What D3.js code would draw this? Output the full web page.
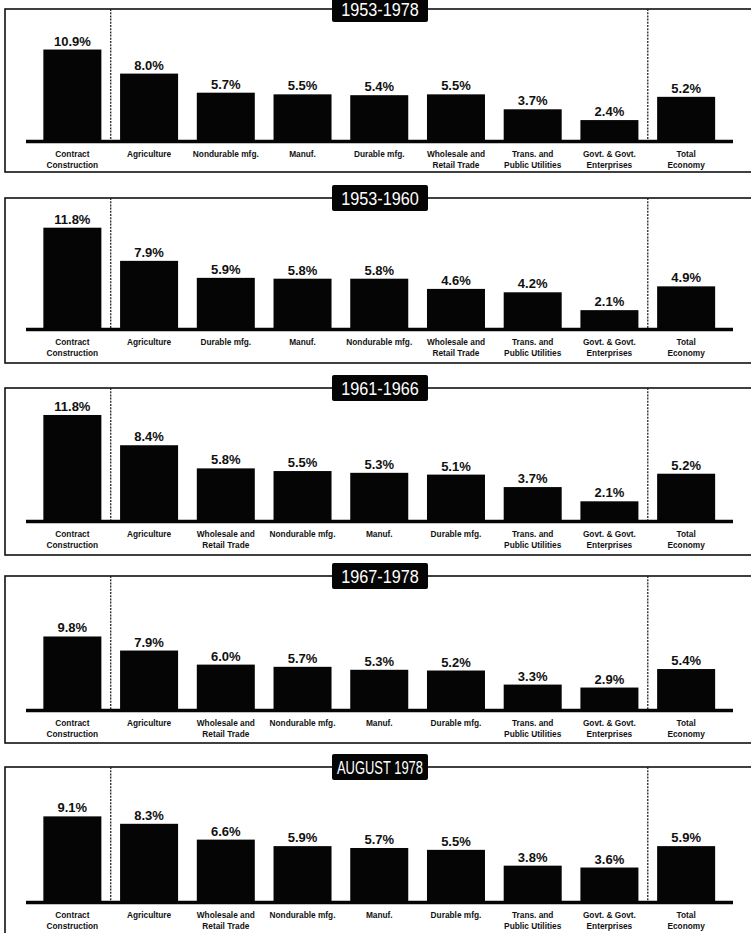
<!DOCTYPE html>
<html>
<head>
<meta charset="utf-8">
<script src="https://cdn.jsdelivr.net/npm/d3@7"></script>
<style>
  html, body { margin: 0; padding: 0; background: #fff; }
  svg { display: block; }
</style>
</head>
<body>
<svg id="chart" width="751" height="933"></svg>
<script>
// ---------- DATA ----------
const panelTitles = ["1953-1978", "1953-1960", "1961-1966", "1967-1978", "AUGUST 1978"];

const categories1 = ["Contract\nConstruction", "Agriculture", "Nondurable mfg.", "Manuf.", "Durable mfg.", "Wholesale and\nRetail Trade", "Trans. and\nPublic Utilities", "Govt. & Govt.\nEnterprises", "Total\nEconomy"];
const values1 = [10.9, 8.0, 5.7, 5.5, 5.4, 5.5, 3.7, 2.4, 5.2];

const categories2 = ["Contract\nConstruction", "Agriculture", "Durable mfg.", "Manuf.", "Nondurable mfg.", "Wholesale and\nRetail Trade", "Trans. and\nPublic Utilities", "Govt. & Govt.\nEnterprises", "Total\nEconomy"];
const values2 = [11.8, 7.9, 5.9, 5.8, 5.8, 4.6, 4.2, 2.1, 4.9];

const categories3 = ["Contract\nConstruction", "Agriculture", "Wholesale and\nRetail Trade", "Nondurable mfg.", "Manuf.", "Durable mfg.", "Trans. and\nPublic Utilities", "Govt. & Govt.\nEnterprises", "Total\nEconomy"];
const values3 = [11.8, 8.4, 5.8, 5.5, 5.3, 5.1, 3.7, 2.1, 5.2];

const categories4 = ["Contract\nConstruction", "Agriculture", "Wholesale and\nRetail Trade", "Nondurable mfg.", "Manuf.", "Durable mfg.", "Trans. and\nPublic Utilities", "Govt. & Govt.\nEnterprises", "Total\nEconomy"];
const values4 = [9.8, 7.9, 6.0, 5.7, 5.3, 5.2, 3.3, 2.9, 5.4];

const categories5 = ["Contract\nConstruction", "Agriculture", "Wholesale and\nRetail Trade", "Nondurable mfg.", "Manuf.", "Durable mfg.", "Trans. and\nPublic Utilities", "Govt. & Govt.\nEnterprises", "Total\nEconomy"];
const values5 = [9.1, 8.3, 6.6, 5.9, 5.7, 5.5, 3.8, 3.6, 5.9];

const panelCategories = [categories1, categories2, categories3, categories4, categories5];
const panelValues = [values1, values2, values3, values4, values5];

// ---------- LAYOUT ----------
const layout = [
  { top: 9,   bottom: 172, base: 140, pxPer: 8.3 },
  { top: 198, bottom: 363, base: 328, pxPer: 8.5 },
  { top: 388, bottom: 555, base: 520, pxPer: 8.9 },
  { top: 576, bottom: 743, base: 709, pxPer: 7.4 },
  { top: 767, bottom: 960, base: 901, pxPer: 9.3 }
];

const svg = d3.select("#chart");
const fmt = d3.format(".1f");
const titleFont = "'Liberation Sans', Arial, sans-serif";
const labelFont = "'Liberation Sans', Arial, 'Helvetica', sans-serif";

panelTitles.forEach((title, p) => {
  const L = layout[p];
  const cats = panelCategories[p];
  const vals = panelValues[p];
  const g = svg.append("g");

  const x = d3.scaleBand()
    .domain(cats)
    .range([34, 724.5])
    .paddingInner(0.244)
    .paddingOuter(0.122);

  const y = d3.scaleLinear()
    .domain([0, 12])
    .range([L.base, L.base - 12 * L.pxPer]);

  // panel frame (right side runs off the page)
  g.append("rect")
    .attr("x", 5).attr("y", L.top)
    .attr("width", 800).attr("height", L.bottom - L.top)
    .attr("fill", "none").attr("stroke", "#111").attr("stroke-width", 1.6);

  // dotted separators
  const step = x.step();
  const sepX = [
    x(cats[0]) + x.bandwidth() + (step - x.bandwidth()) / 2,
    x(cats[7]) + x.bandwidth() + (step - x.bandwidth()) / 2
  ];
  g.selectAll("line.sep").data(sepX).join("line")
    .attr("class", "sep")
    .attr("x1", d => d).attr("x2", d => d)
    .attr("y1", L.top).attr("y2", L.base)
    .attr("stroke", "#222").attr("stroke-width", 1.3)
    .attr("stroke-dasharray", "2,1.2");

  // bars
  g.selectAll("rect.bar").data(vals).join("rect")
    .attr("class", "bar")
    .attr("x", (d, i) => x(cats[i]))
    .attr("width", x.bandwidth())
    .attr("y", d => y(d))
    .attr("height", d => y(0) - y(d))
    .attr("fill", "#050505");

  // baseline
  g.append("line")
    .attr("x1", 26).attr("x2", 733)
    .attr("y1", L.base + 1.5).attr("y2", L.base + 1.5)
    .attr("stroke", "#050505").attr("stroke-width", 3.5);

  // value labels
  g.selectAll("text.val").data(vals).join("text")
    .attr("class", "val")
    .attr("x", (d, i) => x(cats[i]) + x.bandwidth() / 2)
    .attr("y", d => y(d) - 4)
    .attr("text-anchor", "middle")
    .attr("font-family", labelFont)
    .attr("font-weight", "bold")
    .attr("font-size", 13)
    .attr("fill", "#111")
    .text(d => fmt(d) + "%");

  // category labels
  const cl = g.selectAll("text.cat").data(cats).join("text")
    .attr("class", "cat")
    .attr("x", d => x(d) + x.bandwidth() / 2)
    .attr("y", L.base + 17)
    .attr("text-anchor", "middle")
    .attr("font-family", labelFont)
    .attr("font-weight", "bold")
    .attr("font-size", 8.3)
    .attr("fill", "#111");
  cl.each(function(d) {
    const lines = d.split("\n");
    const t = d3.select(this);
    lines.forEach((ln, k) => {
      t.append("tspan")
        .attr("x", t.attr("x"))
        .attr("dy", k === 0 ? 0 : 10.5)
        .text(ln);
    });
  });

  // title box
  const tb = g.append("g");
  tb.append("rect")
    .attr("x", 332).attr("y", L.top - 13)
    .attr("width", 96).attr("height", 26)
    .attr("rx", 2)
    .attr("fill", "#050505");
  const tt = tb.append("text")
    .attr("x", 380).attr("y", L.top + 7)
    .attr("text-anchor", "middle")
    .attr("font-family", titleFont)
    .attr("font-size", 18)
    .attr("fill", "#fff")
    .text(title);
  const natural = tt.node().getComputedTextLength();
  const target = Math.min(natural * 0.9, 86);
  tt.attr("textLength", target).attr("lengthAdjust", "spacingAndGlyphs");
});
</script>
</body>
</html>
